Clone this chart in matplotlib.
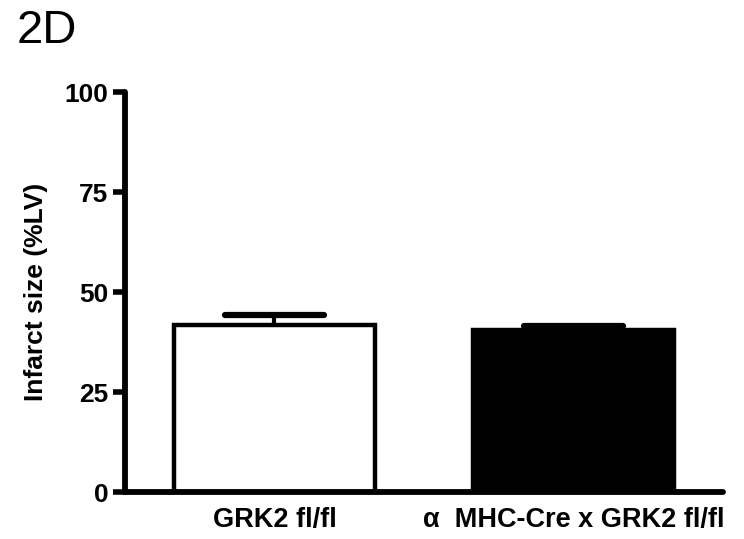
import numpy as np
import matplotlib.pyplot as plt

# Infarct size per genotype (mean, SEM)
groups = ["GRK2 fl/fl", "\u03b1  MHC-Cre x GRK2 fl/fl"]
means = [41.8, 40.5]
sems = [2.5, 1.1]
colors = ["white", "black"]
yticks = [0, 25, 50, 75, 100]

plt.rcParams["font.family"] = ["Liberation Sans", "DejaVu Sans"]

fig = plt.figure(figsize=(7.44, 5.39), dpi=100)
ax = fig.add_axes([125 / 744, 47 / 539, 598 / 744, 400 / 539])

x = np.arange(len(groups))
ax.bar(x, means, width=0.67, color=colors, edgecolor="black", linewidth=3.2, zorder=2)

# upward-only error bars with rounded caps
tops = np.array(means) + np.array(sems)
ax.vlines(x, means, tops, color="black", linewidth=3, zorder=1)
ax.hlines(tops, x - 0.165, x + 0.165, color="black", linewidth=4.5,
          capstyle="round", zorder=1)

ax.set_xlim(-0.5, 1.5)
ax.set_ylim(0, 100)
ax.set_yticks(yticks)
ax.set_yticklabels([str(t) for t in yticks], fontsize=19, fontweight="bold")
ax.set_xticks(x)
ax.set_xticklabels(groups, fontsize=19.5, fontweight="bold")
ax.tick_params(axis="y", length=9, width=4, pad=3)
ax.tick_params(axis="x", length=0, pad=11)
ax.set_ylabel("Infarct size (%LV)", fontsize=19, fontweight="bold", labelpad=12)

for side in ["top", "right"]:
    ax.spines[side].set_visible(False)
for side in ["left", "bottom"]:
    ax.spines[side].set_linewidth(4.2)
    ax.spines[side].set_capstyle("round")

fig.text(17 / 744, 1 - 43 / 539, "2D", fontsize=34, ha="left", va="baseline")

fig.savefig("out.png", dpi=100)
